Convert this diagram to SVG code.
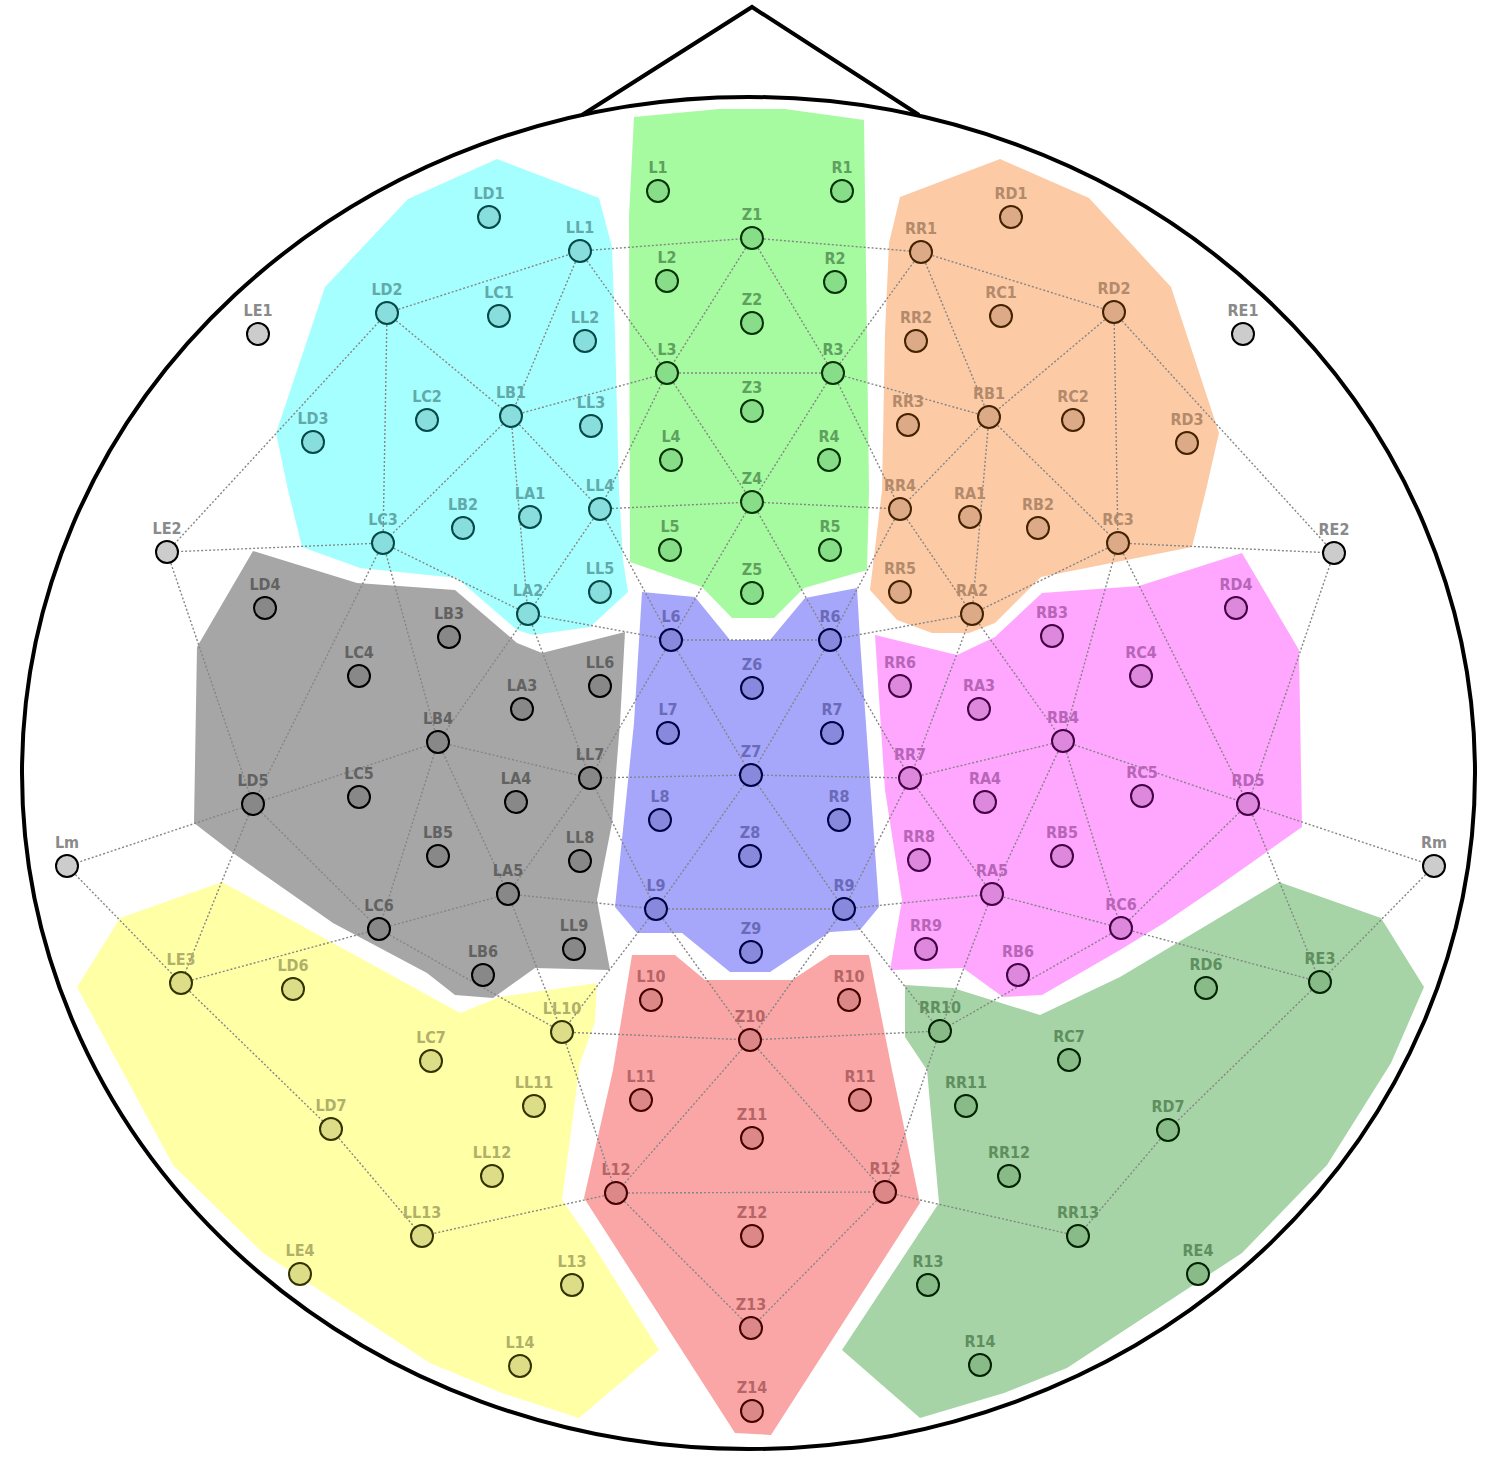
<svg xmlns="http://www.w3.org/2000/svg" width="1506" height="1459" viewBox="0 0 1506 1459">
<style>
.n circle{stroke-width:2}
.n text{font-family:"DejaVu Sans Condensed","DejaVu Sans","Liberation Sans",sans-serif;font-stretch:condensed;font-weight:bold;font-size:16px;text-anchor:middle}
.out circle{fill:#cccccc;stroke:#000}.out text{fill:#8a8a8a}
.cy circle{fill:#88dddd;stroke:#054848}.cy text{fill:#62aaaa}
.gr circle{fill:#88dd88;stroke:#053305}.gr text{fill:#5fa05f}
.or circle{fill:#ddaa88;stroke:#442200}.or text{fill:#b38a6b}
.gy circle{fill:#888888;stroke:#000}.gy text{fill:#626262}
.bl circle{fill:#8888dd;stroke:#000044}.bl text{fill:#6a6ab8}
.mg circle{fill:#dd88dd;stroke:#440044}.mg text{fill:#b765b7}
.ye circle{fill:#dddd88;stroke:#333300}.ye text{fill:#b0b06a}
.rd circle{fill:#dd8888;stroke:#440000}.rd text{fill:#b56565}
.dg circle{fill:#88bb88;stroke:#002200}.dg text{fill:#5f8f5f}
#connectors line{stroke:#858585;stroke-width:1.4;stroke-dasharray:2 2;fill:none}
</style>
<g id="head">
<ellipse cx="748.5" cy="773" rx="726.5" ry="676" fill="#fff" stroke="#000" stroke-width="4"/>
<polyline points="582,115 752,7 919,115" fill="none" stroke="#000" stroke-width="4"/>
</g>
<g id="regions">
<polygon fill="#a6ffff" points="497,159 599,198 612,247 615,333 619,490 623,560 628,592 590,627 533,635 517,630 502,617 457,578 360,568 302,547 288,490 276,433 325,287 408,199"/>
<polygon fill="#a6fba0" points="634,117 719,109 785,109 864,120 869,490 867,570 804,588 774,618 732,618 702,587 630,562 629,217"/>
<polygon fill="#fccba6" points="1000,159 1089,198 1171,287 1219,433 1206,490 1192,547 1041,577 995,623 969,633 932,633 897,620 870,590 882,490 885,333 889,243 900,197"/>
<polygon fill="#a6a6a6" points="253,551 357,583 455,590 517,643 542,653 625,632 620,723 612,823 597,900 610,970 535,968 493,998 455,995 427,973 333,923 233,853 194,823 197,647"/>
<polygon fill="#a6a6fa" points="642,592 695,597 730,640 770,640 805,598 857,588 860,640 879,907 860,930 830,932 770,972 730,972 682,933 637,933 615,907 634,723"/>
<polygon fill="#ffa6ff" points="875,635 957,655 995,637 1042,593 1139,586 1242,553 1299,650 1302,827 1217,887 1164,923 1120,950 1042,995 1003,997 963,968 890,970 902,900 885,790"/>
<polygon fill="#ffffa6" points="120,918 222,882 460,1013 500,997 597,983 595,1022 580,1063 562,1200 590,1240 659,1350 579,1418 502,1393 430,1363 263,1253 173,1165 77,987"/>
<polygon fill="#faa6a6" points="632,955 675,955 705,980 792,980 830,955 869,955 892,1070 920,1203 771,1435 735,1433 584,1198 613,1070"/>
<polygon fill="#a6d4a6" points="905,985 953,988 1040,1015 1120,977 1279,882 1381,918 1424,987 1391,1063 1327,1165 1242,1253 1067,1368 1004,1393 920,1418 842,1350 939,1203 927,1070 905,1037"/>
</g>
<g id="connectors">
<line x1="387" y1="313" x2="580" y2="251"/>
<line x1="580" y1="251" x2="752" y2="238"/>
<line x1="752" y1="238" x2="921" y2="252"/>
<line x1="921" y1="252" x2="1114" y2="312"/>
<line x1="580" y1="251" x2="511" y2="416"/>
<line x1="580" y1="251" x2="667" y2="373"/>
<line x1="752" y1="238" x2="667" y2="373"/>
<line x1="752" y1="238" x2="833" y2="373"/>
<line x1="921" y1="252" x2="833" y2="373"/>
<line x1="921" y1="252" x2="989" y2="417"/>
<line x1="387" y1="313" x2="383" y2="543"/>
<line x1="387" y1="313" x2="511" y2="416"/>
<line x1="387" y1="313" x2="167" y2="552"/>
<line x1="1114" y1="312" x2="1334" y2="553"/>
<line x1="1114" y1="312" x2="989" y2="417"/>
<line x1="1114" y1="312" x2="1118" y2="543"/>
<line x1="511" y1="416" x2="667" y2="373"/>
<line x1="667" y1="373" x2="833" y2="373"/>
<line x1="833" y1="373" x2="989" y2="417"/>
<line x1="511" y1="416" x2="383" y2="543"/>
<line x1="511" y1="416" x2="528" y2="614"/>
<line x1="511" y1="416" x2="600" y2="509"/>
<line x1="989" y1="417" x2="900" y2="509"/>
<line x1="989" y1="417" x2="972" y2="614"/>
<line x1="989" y1="417" x2="1118" y2="543"/>
<line x1="667" y1="373" x2="600" y2="509"/>
<line x1="667" y1="373" x2="752" y2="502"/>
<line x1="833" y1="373" x2="752" y2="502"/>
<line x1="833" y1="373" x2="900" y2="509"/>
<line x1="600" y1="509" x2="752" y2="502"/>
<line x1="752" y1="502" x2="900" y2="509"/>
<line x1="600" y1="509" x2="528" y2="614"/>
<line x1="900" y1="509" x2="972" y2="614"/>
<line x1="600" y1="509" x2="671" y2="640"/>
<line x1="752" y1="502" x2="671" y2="640"/>
<line x1="752" y1="502" x2="830" y2="640"/>
<line x1="900" y1="509" x2="830" y2="640"/>
<line x1="383" y1="543" x2="167" y2="552"/>
<line x1="383" y1="543" x2="528" y2="614"/>
<line x1="528" y1="614" x2="671" y2="640"/>
<line x1="1118" y1="543" x2="1334" y2="553"/>
<line x1="1118" y1="543" x2="972" y2="614"/>
<line x1="972" y1="614" x2="830" y2="640"/>
<line x1="671" y1="640" x2="830" y2="640"/>
<line x1="671" y1="640" x2="751" y2="775"/>
<line x1="830" y1="640" x2="751" y2="775"/>
<line x1="671" y1="640" x2="590" y2="778"/>
<line x1="830" y1="640" x2="910" y2="778"/>
<line x1="528" y1="614" x2="590" y2="778"/>
<line x1="972" y1="614" x2="910" y2="778"/>
<line x1="383" y1="543" x2="253" y2="804"/>
<line x1="383" y1="543" x2="438" y2="742"/>
<line x1="528" y1="614" x2="438" y2="742"/>
<line x1="1118" y1="543" x2="1063" y2="741"/>
<line x1="1118" y1="543" x2="1248" y2="804"/>
<line x1="972" y1="614" x2="1063" y2="741"/>
<line x1="167" y1="552" x2="253" y2="804"/>
<line x1="1334" y1="553" x2="1248" y2="804"/>
<line x1="253" y1="804" x2="438" y2="742"/>
<line x1="438" y1="742" x2="590" y2="778"/>
<line x1="438" y1="742" x2="379" y2="929"/>
<line x1="438" y1="742" x2="508" y2="894"/>
<line x1="590" y1="778" x2="751" y2="775"/>
<line x1="751" y1="775" x2="910" y2="778"/>
<line x1="910" y1="778" x2="1063" y2="741"/>
<line x1="1063" y1="741" x2="1248" y2="804"/>
<line x1="1063" y1="741" x2="992" y2="894"/>
<line x1="1063" y1="741" x2="1121" y2="928"/>
<line x1="910" y1="778" x2="992" y2="894"/>
<line x1="910" y1="778" x2="844" y2="909"/>
<line x1="590" y1="778" x2="656" y2="909"/>
<line x1="590" y1="778" x2="508" y2="894"/>
<line x1="751" y1="775" x2="656" y2="909"/>
<line x1="751" y1="775" x2="844" y2="909"/>
<line x1="253" y1="804" x2="67" y2="866"/>
<line x1="1248" y1="804" x2="1434" y2="866"/>
<line x1="253" y1="804" x2="379" y2="929"/>
<line x1="253" y1="804" x2="181" y2="983"/>
<line x1="1248" y1="804" x2="1121" y2="928"/>
<line x1="1248" y1="804" x2="1320" y2="982"/>
<line x1="508" y1="894" x2="379" y2="929"/>
<line x1="508" y1="894" x2="656" y2="909"/>
<line x1="656" y1="909" x2="844" y2="909"/>
<line x1="844" y1="909" x2="992" y2="894"/>
<line x1="992" y1="894" x2="1121" y2="928"/>
<line x1="1121" y1="928" x2="1320" y2="982"/>
<line x1="992" y1="894" x2="940" y2="1031"/>
<line x1="1121" y1="928" x2="940" y2="1031"/>
<line x1="379" y1="929" x2="562" y2="1032"/>
<line x1="508" y1="894" x2="562" y2="1032"/>
<line x1="379" y1="929" x2="181" y2="983"/>
<line x1="67" y1="866" x2="181" y2="983"/>
<line x1="1434" y1="866" x2="1320" y2="982"/>
<line x1="656" y1="909" x2="750" y2="1040"/>
<line x1="844" y1="909" x2="750" y2="1040"/>
<line x1="656" y1="909" x2="562" y2="1032"/>
<line x1="844" y1="909" x2="940" y2="1031"/>
<line x1="562" y1="1032" x2="750" y2="1040"/>
<line x1="750" y1="1040" x2="940" y2="1031"/>
<line x1="562" y1="1032" x2="616" y2="1193"/>
<line x1="940" y1="1031" x2="885" y2="1192"/>
<line x1="750" y1="1040" x2="616" y2="1193"/>
<line x1="750" y1="1040" x2="885" y2="1192"/>
<line x1="616" y1="1193" x2="885" y2="1192"/>
<line x1="616" y1="1193" x2="422" y2="1236"/>
<line x1="885" y1="1192" x2="1078" y2="1236"/>
<line x1="616" y1="1193" x2="751" y2="1328"/>
<line x1="885" y1="1192" x2="751" y2="1328"/>
<line x1="181" y1="983" x2="331" y2="1129"/>
<line x1="331" y1="1129" x2="422" y2="1236"/>
<line x1="1320" y1="982" x2="1168" y2="1130"/>
<line x1="1168" y1="1130" x2="1078" y2="1236"/>
</g>
<g id="LE1" class="n out"><circle cx="258" cy="334" r="11"/><text x="258" y="316">LE1</text></g>
<g id="RE1" class="n out"><circle cx="1243" cy="334" r="11"/><text x="1243" y="316">RE1</text></g>
<g id="LE2" class="n out"><circle cx="167" cy="552" r="11"/><text x="167" y="534">LE2</text></g>
<g id="RE2" class="n out"><circle cx="1334" cy="553" r="11"/><text x="1334" y="535">RE2</text></g>
<g id="Lm" class="n out"><circle cx="67" cy="866" r="11"/><text x="67" y="848">Lm</text></g>
<g id="Rm" class="n out"><circle cx="1434" cy="866" r="11"/><text x="1434" y="848">Rm</text></g>
<g id="LD1" class="n cy"><circle cx="489" cy="217" r="11"/><text x="489" y="199">LD1</text></g>
<g id="LL1" class="n cy"><circle cx="580" cy="251" r="11"/><text x="580" y="233">LL1</text></g>
<g id="LD2" class="n cy"><circle cx="387" cy="313" r="11"/><text x="387" y="295">LD2</text></g>
<g id="LC1" class="n cy"><circle cx="499" cy="316" r="11"/><text x="499" y="298">LC1</text></g>
<g id="LL2" class="n cy"><circle cx="585" cy="341" r="11"/><text x="585" y="323">LL2</text></g>
<g id="LD3" class="n cy"><circle cx="313" cy="442" r="11"/><text x="313" y="424">LD3</text></g>
<g id="LC2" class="n cy"><circle cx="427" cy="420" r="11"/><text x="427" y="402">LC2</text></g>
<g id="LB1" class="n cy"><circle cx="511" cy="416" r="11"/><text x="511" y="398">LB1</text></g>
<g id="LL3" class="n cy"><circle cx="591" cy="426" r="11"/><text x="591" y="408">LL3</text></g>
<g id="LB2" class="n cy"><circle cx="463" cy="528" r="11"/><text x="463" y="510">LB2</text></g>
<g id="LA1" class="n cy"><circle cx="530" cy="517" r="11"/><text x="530" y="499">LA1</text></g>
<g id="LL4" class="n cy"><circle cx="600" cy="509" r="11"/><text x="600" y="491">LL4</text></g>
<g id="LC3" class="n cy"><circle cx="383" cy="543" r="11"/><text x="383" y="525">LC3</text></g>
<g id="LA2" class="n cy"><circle cx="528" cy="614" r="11"/><text x="528" y="596">LA2</text></g>
<g id="LL5" class="n cy"><circle cx="600" cy="592" r="11"/><text x="600" y="574">LL5</text></g>
<g id="L1" class="n gr"><circle cx="658" cy="191" r="11"/><text x="658" y="173">L1</text></g>
<g id="R1" class="n gr"><circle cx="842" cy="191" r="11"/><text x="842" y="173">R1</text></g>
<g id="Z1" class="n gr"><circle cx="752" cy="238" r="11"/><text x="752" y="220">Z1</text></g>
<g id="L2" class="n gr"><circle cx="667" cy="281" r="11"/><text x="667" y="263">L2</text></g>
<g id="R2" class="n gr"><circle cx="835" cy="282" r="11"/><text x="835" y="264">R2</text></g>
<g id="Z2" class="n gr"><circle cx="752" cy="323" r="11"/><text x="752" y="305">Z2</text></g>
<g id="L3" class="n gr"><circle cx="667" cy="373" r="11"/><text x="667" y="355">L3</text></g>
<g id="R3" class="n gr"><circle cx="833" cy="373" r="11"/><text x="833" y="355">R3</text></g>
<g id="Z3" class="n gr"><circle cx="752" cy="411" r="11"/><text x="752" y="393">Z3</text></g>
<g id="L4" class="n gr"><circle cx="671" cy="460" r="11"/><text x="671" y="442">L4</text></g>
<g id="R4" class="n gr"><circle cx="829" cy="460" r="11"/><text x="829" y="442">R4</text></g>
<g id="Z4" class="n gr"><circle cx="752" cy="502" r="11"/><text x="752" y="484">Z4</text></g>
<g id="L5" class="n gr"><circle cx="670" cy="550" r="11"/><text x="670" y="532">L5</text></g>
<g id="R5" class="n gr"><circle cx="830" cy="550" r="11"/><text x="830" y="532">R5</text></g>
<g id="Z5" class="n gr"><circle cx="752" cy="593" r="11"/><text x="752" y="575">Z5</text></g>
<g id="RD1" class="n or"><circle cx="1011" cy="217" r="11"/><text x="1011" y="199">RD1</text></g>
<g id="RR1" class="n or"><circle cx="921" cy="252" r="11"/><text x="921" y="234">RR1</text></g>
<g id="RC1" class="n or"><circle cx="1001" cy="316" r="11"/><text x="1001" y="298">RC1</text></g>
<g id="RD2" class="n or"><circle cx="1114" cy="312" r="11"/><text x="1114" y="294">RD2</text></g>
<g id="RR2" class="n or"><circle cx="916" cy="341" r="11"/><text x="916" y="323">RR2</text></g>
<g id="RB1" class="n or"><circle cx="989" cy="417" r="11"/><text x="989" y="399">RB1</text></g>
<g id="RC2" class="n or"><circle cx="1073" cy="420" r="11"/><text x="1073" y="402">RC2</text></g>
<g id="RR3" class="n or"><circle cx="908" cy="425" r="11"/><text x="908" y="407">RR3</text></g>
<g id="RD3" class="n or"><circle cx="1187" cy="443" r="11"/><text x="1187" y="425">RD3</text></g>
<g id="RR4" class="n or"><circle cx="900" cy="509" r="11"/><text x="900" y="491">RR4</text></g>
<g id="RA1" class="n or"><circle cx="970" cy="517" r="11"/><text x="970" y="499">RA1</text></g>
<g id="RB2" class="n or"><circle cx="1038" cy="528" r="11"/><text x="1038" y="510">RB2</text></g>
<g id="RC3" class="n or"><circle cx="1118" cy="543" r="11"/><text x="1118" y="525">RC3</text></g>
<g id="RR5" class="n or"><circle cx="900" cy="592" r="11"/><text x="900" y="574">RR5</text></g>
<g id="RA2" class="n or"><circle cx="972" cy="614" r="11"/><text x="972" y="596">RA2</text></g>
<g id="LD4" class="n gy"><circle cx="265" cy="608" r="11"/><text x="265" y="590">LD4</text></g>
<g id="LB3" class="n gy"><circle cx="449" cy="637" r="11"/><text x="449" y="619">LB3</text></g>
<g id="LC4" class="n gy"><circle cx="359" cy="676" r="11"/><text x="359" y="658">LC4</text></g>
<g id="LL6" class="n gy"><circle cx="600" cy="686" r="11"/><text x="600" y="668">LL6</text></g>
<g id="LA3" class="n gy"><circle cx="522" cy="709" r="11"/><text x="522" y="691">LA3</text></g>
<g id="LB4" class="n gy"><circle cx="438" cy="742" r="11"/><text x="438" y="724">LB4</text></g>
<g id="LL7" class="n gy"><circle cx="590" cy="778" r="11"/><text x="590" y="760">LL7</text></g>
<g id="LD5" class="n gy"><circle cx="253" cy="804" r="11"/><text x="253" y="786">LD5</text></g>
<g id="LC5" class="n gy"><circle cx="359" cy="797" r="11"/><text x="359" y="779">LC5</text></g>
<g id="LA4" class="n gy"><circle cx="516" cy="802" r="11"/><text x="516" y="784">LA4</text></g>
<g id="LB5" class="n gy"><circle cx="438" cy="856" r="11"/><text x="438" y="838">LB5</text></g>
<g id="LL8" class="n gy"><circle cx="580" cy="861" r="11"/><text x="580" y="843">LL8</text></g>
<g id="LA5" class="n gy"><circle cx="508" cy="894" r="11"/><text x="508" y="876">LA5</text></g>
<g id="LC6" class="n gy"><circle cx="379" cy="929" r="11"/><text x="379" y="911">LC6</text></g>
<g id="LL9" class="n gy"><circle cx="574" cy="949" r="11"/><text x="574" y="931">LL9</text></g>
<g id="LB6" class="n gy"><circle cx="483" cy="975" r="11"/><text x="483" y="957">LB6</text></g>
<g id="L6" class="n bl"><circle cx="671" cy="640" r="11"/><text x="671" y="622">L6</text></g>
<g id="R6" class="n bl"><circle cx="830" cy="640" r="11"/><text x="830" y="622">R6</text></g>
<g id="Z6" class="n bl"><circle cx="752" cy="688" r="11"/><text x="752" y="670">Z6</text></g>
<g id="L7" class="n bl"><circle cx="668" cy="733" r="11"/><text x="668" y="715">L7</text></g>
<g id="R7" class="n bl"><circle cx="832" cy="733" r="11"/><text x="832" y="715">R7</text></g>
<g id="Z7" class="n bl"><circle cx="751" cy="775" r="11"/><text x="751" y="757">Z7</text></g>
<g id="L8" class="n bl"><circle cx="660" cy="820" r="11"/><text x="660" y="802">L8</text></g>
<g id="R8" class="n bl"><circle cx="839" cy="820" r="11"/><text x="839" y="802">R8</text></g>
<g id="Z8" class="n bl"><circle cx="750" cy="856" r="11"/><text x="750" y="838">Z8</text></g>
<g id="L9" class="n bl"><circle cx="656" cy="909" r="11"/><text x="656" y="891">L9</text></g>
<g id="R9" class="n bl"><circle cx="844" cy="909" r="11"/><text x="844" y="891">R9</text></g>
<g id="Z9" class="n bl"><circle cx="751" cy="952" r="11"/><text x="751" y="934">Z9</text></g>
<g id="RD4" class="n mg"><circle cx="1236" cy="608" r="11"/><text x="1236" y="590">RD4</text></g>
<g id="RB3" class="n mg"><circle cx="1052" cy="636" r="11"/><text x="1052" y="618">RB3</text></g>
<g id="RC4" class="n mg"><circle cx="1141" cy="676" r="11"/><text x="1141" y="658">RC4</text></g>
<g id="RR6" class="n mg"><circle cx="900" cy="686" r="11"/><text x="900" y="668">RR6</text></g>
<g id="RA3" class="n mg"><circle cx="979" cy="709" r="11"/><text x="979" y="691">RA3</text></g>
<g id="RB4" class="n mg"><circle cx="1063" cy="741" r="11"/><text x="1063" y="723">RB4</text></g>
<g id="RR7" class="n mg"><circle cx="910" cy="778" r="11"/><text x="910" y="760">RR7</text></g>
<g id="RC5" class="n mg"><circle cx="1142" cy="796" r="11"/><text x="1142" y="778">RC5</text></g>
<g id="RD5" class="n mg"><circle cx="1248" cy="804" r="11"/><text x="1248" y="786">RD5</text></g>
<g id="RA4" class="n mg"><circle cx="985" cy="802" r="11"/><text x="985" y="784">RA4</text></g>
<g id="RR8" class="n mg"><circle cx="919" cy="860" r="11"/><text x="919" y="842">RR8</text></g>
<g id="RB5" class="n mg"><circle cx="1062" cy="856" r="11"/><text x="1062" y="838">RB5</text></g>
<g id="RA5" class="n mg"><circle cx="992" cy="894" r="11"/><text x="992" y="876">RA5</text></g>
<g id="RC6" class="n mg"><circle cx="1121" cy="928" r="11"/><text x="1121" y="910">RC6</text></g>
<g id="RR9" class="n mg"><circle cx="926" cy="949" r="11"/><text x="926" y="931">RR9</text></g>
<g id="RB6" class="n mg"><circle cx="1018" cy="975" r="11"/><text x="1018" y="957">RB6</text></g>
<g id="LE3" class="n ye"><circle cx="181" cy="983" r="11"/><text x="181" y="965">LE3</text></g>
<g id="LD6" class="n ye"><circle cx="293" cy="989" r="11"/><text x="293" y="971">LD6</text></g>
<g id="LL10" class="n ye"><circle cx="562" cy="1032" r="11"/><text x="562" y="1014">LL10</text></g>
<g id="LC7" class="n ye"><circle cx="431" cy="1061" r="11"/><text x="431" y="1043">LC7</text></g>
<g id="LL11" class="n ye"><circle cx="534" cy="1106" r="11"/><text x="534" y="1088">LL11</text></g>
<g id="LD7" class="n ye"><circle cx="331" cy="1129" r="11"/><text x="331" y="1111">LD7</text></g>
<g id="LL12" class="n ye"><circle cx="492" cy="1176" r="11"/><text x="492" y="1158">LL12</text></g>
<g id="LL13" class="n ye"><circle cx="422" cy="1236" r="11"/><text x="422" y="1218">LL13</text></g>
<g id="LE4" class="n ye"><circle cx="300" cy="1274" r="11"/><text x="300" y="1256">LE4</text></g>
<g id="L13" class="n ye"><circle cx="572" cy="1285" r="11"/><text x="572" y="1267">L13</text></g>
<g id="L14" class="n ye"><circle cx="520" cy="1366" r="11"/><text x="520" y="1348">L14</text></g>
<g id="L10" class="n rd"><circle cx="651" cy="1000" r="11"/><text x="651" y="982">L10</text></g>
<g id="R10" class="n rd"><circle cx="849" cy="1000" r="11"/><text x="849" y="982">R10</text></g>
<g id="Z10" class="n rd"><circle cx="750" cy="1040" r="11"/><text x="750" y="1022">Z10</text></g>
<g id="L11" class="n rd"><circle cx="641" cy="1100" r="11"/><text x="641" y="1082">L11</text></g>
<g id="R11" class="n rd"><circle cx="860" cy="1100" r="11"/><text x="860" y="1082">R11</text></g>
<g id="Z11" class="n rd"><circle cx="752" cy="1138" r="11"/><text x="752" y="1120">Z11</text></g>
<g id="L12" class="n rd"><circle cx="616" cy="1193" r="11"/><text x="616" y="1175">L12</text></g>
<g id="R12" class="n rd"><circle cx="885" cy="1192" r="11"/><text x="885" y="1174">R12</text></g>
<g id="Z12" class="n rd"><circle cx="752" cy="1236" r="11"/><text x="752" y="1218">Z12</text></g>
<g id="Z13" class="n rd"><circle cx="751" cy="1328" r="11"/><text x="751" y="1310">Z13</text></g>
<g id="Z14" class="n rd"><circle cx="752" cy="1411" r="11"/><text x="752" y="1393">Z14</text></g>
<g id="RR10" class="n dg"><circle cx="940" cy="1031" r="11"/><text x="940" y="1013">RR10</text></g>
<g id="RD6" class="n dg"><circle cx="1206" cy="988" r="11"/><text x="1206" y="970">RD6</text></g>
<g id="RE3" class="n dg"><circle cx="1320" cy="982" r="11"/><text x="1320" y="964">RE3</text></g>
<g id="RC7" class="n dg"><circle cx="1069" cy="1060" r="11"/><text x="1069" y="1042">RC7</text></g>
<g id="RR11" class="n dg"><circle cx="966" cy="1106" r="11"/><text x="966" y="1088">RR11</text></g>
<g id="RD7" class="n dg"><circle cx="1168" cy="1130" r="11"/><text x="1168" y="1112">RD7</text></g>
<g id="RR12" class="n dg"><circle cx="1009" cy="1176" r="11"/><text x="1009" y="1158">RR12</text></g>
<g id="RR13" class="n dg"><circle cx="1078" cy="1236" r="11"/><text x="1078" y="1218">RR13</text></g>
<g id="RE4" class="n dg"><circle cx="1198" cy="1274" r="11"/><text x="1198" y="1256">RE4</text></g>
<g id="R13" class="n dg"><circle cx="928" cy="1285" r="11"/><text x="928" y="1267">R13</text></g>
<g id="R14" class="n dg"><circle cx="980" cy="1365" r="11"/><text x="980" y="1347">R14</text></g>
</svg>
